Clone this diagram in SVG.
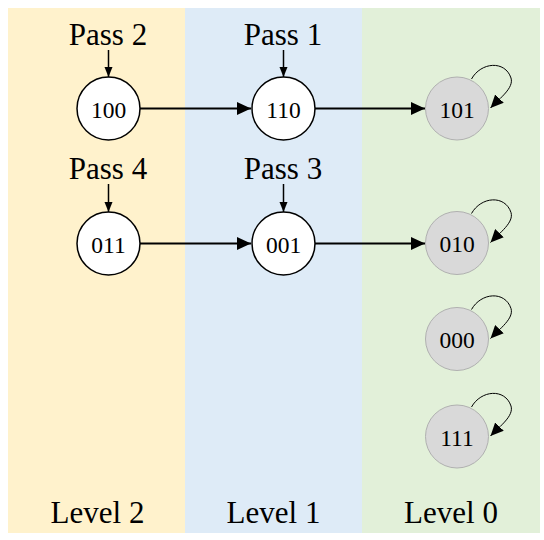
<svg xmlns="http://www.w3.org/2000/svg" width="544" height="540" viewBox="0 0 544 540">
<defs>
<style>
.lbl{font-family:"Liberation Serif","Times New Roman",serif;font-size:31px;fill:#000;text-anchor:middle}
.num{font-family:"Liberation Serif","Times New Roman",serif;font-size:23.5px;fill:#000;text-anchor:middle;dominant-baseline:central}
.wn{fill:#fff;stroke:#000;stroke-width:1.5}
.gn{fill:#d9d9d9;stroke:#b0b0b0;stroke-width:1}
.edge{fill:none;stroke:#000;stroke-width:2}
.vert{fill:none;stroke:#000;stroke-width:1.5}
.loop{fill:none;stroke:#000;stroke-width:1}
</style>
<marker id="ah" markerUnits="userSpaceOnUse" markerWidth="14" markerHeight="14" viewBox="0 0 13 12" refX="13" refY="6" orient="auto">
<path d="M0,0 L13,6 L0,12 z" fill="#000"/>
</marker>
<marker id="as" markerUnits="userSpaceOnUse" markerWidth="10" markerHeight="9" viewBox="0 0 10 8" refX="10" refY="4" orient="auto">
<path d="M0,0 L10,4 L0,8 z" fill="#000"/>
</marker>
<marker id="al" markerUnits="userSpaceOnUse" markerWidth="13" markerHeight="12" viewBox="0 0 12 11" refX="12" refY="5.5" orient="auto">
<path d="M0,0 L12,5.5 L0,11 z" fill="#000"/>
</marker>
</defs>
<g id="bands">
<rect x="8" y="8" width="177" height="525" fill="#fff2cc"/>
<rect x="185" y="8" width="177" height="525" fill="#deebf7"/>
<rect x="362" y="8" width="178" height="525" fill="#e2f0d9"/>
</g>
<g id="labels">
<text class="lbl" x="108" y="45">Pass 2</text>
<text class="lbl" x="283" y="45">Pass 1</text>
<text class="lbl" x="108" y="179">Pass 4</text>
<text class="lbl" x="283" y="179">Pass 3</text>
<text class="lbl" x="97.5" y="523">Level 2</text>
<text class="lbl" x="273.5" y="523">Level 1</text>
<text class="lbl" x="451" y="523">Level 0</text>
</g>
<g id="connectors">
<line class="vert" x1="108.5" y1="50" x2="108.5" y2="77" marker-end="url(#as)"/>
<line class="vert" x1="283.5" y1="50" x2="283.5" y2="77" marker-end="url(#as)"/>
<line class="vert" x1="108.5" y1="184" x2="108.5" y2="212" marker-end="url(#as)"/>
<line class="vert" x1="283.5" y1="184" x2="283.5" y2="212" marker-end="url(#as)"/>
<line class="edge" x1="140" y1="108.5" x2="251" y2="108.5" marker-end="url(#ah)"/>
<line class="edge" x1="315" y1="108.5" x2="425" y2="108.5" marker-end="url(#ah)"/>
<line class="edge" x1="140" y1="243.5" x2="251" y2="243.5" marker-end="url(#ah)"/>
<line class="edge" x1="315" y1="243.5" x2="425" y2="243.5" marker-end="url(#ah)"/>
<path class="loop" d="M471.5,79 C481,62 505,60 511,78 C514,88 500,98 490.5,108" marker-end="url(#al)"/>
<path class="loop" d="M471.5,213.5 C481,196.5 505,194.5 511,212.5 C514,222.5 500,232.5 490.5,242.5" marker-end="url(#al)"/>
<path class="loop" d="M471.5,309.5 C481,292.5 505,290.5 511,308.5 C514,318.5 500,328.5 490.5,338.5" marker-end="url(#al)"/>
<path class="loop" d="M471.5,407 C481,390 505,388 511,406 C514,416 500,426 490.5,436" marker-end="url(#al)"/>
</g>
<g id="n100"><circle class="wn" cx="108.5" cy="108.5" r="31.5"/><text class="num" x="108.5" y="109.5">100</text></g>
<g id="n110"><circle class="wn" cx="283.5" cy="108.5" r="31.5"/><text class="num" x="283.5" y="109.5">110</text></g>
<g id="n101"><circle class="gn" cx="457" cy="108.5" r="31.5"/><text class="num" x="457" y="109.5">101</text></g>
<g id="n011"><circle class="wn" cx="108.5" cy="243.5" r="31.5"/><text class="num" x="108.5" y="244.5">011</text></g>
<g id="n001"><circle class="wn" cx="283.5" cy="243.5" r="31.5"/><text class="num" x="283.5" y="244.5">001</text></g>
<g id="n010"><circle class="gn" cx="457" cy="243" r="31.5"/><text class="num" x="457" y="244">010</text></g>
<g id="n000"><circle class="gn" cx="457" cy="339" r="31.5"/><text class="num" x="457" y="340">000</text></g>
<g id="n111"><circle class="gn" cx="457" cy="436.5" r="31.5"/><text class="num" x="457" y="437.5">111</text></g>
</svg>
